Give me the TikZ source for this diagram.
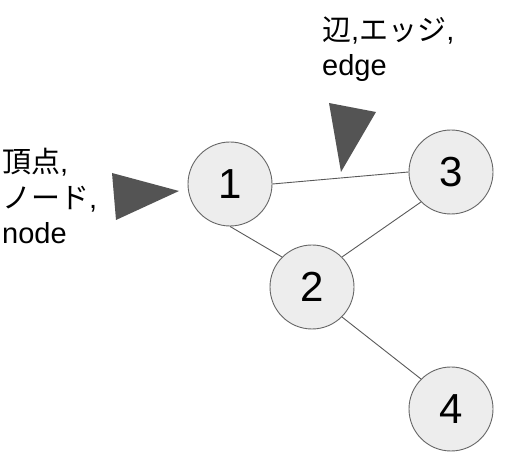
\documentclass[tikz,border=0pt]{standalone}
\usepackage{fontspec}
\setmainfont{Liberation Sans}
\newfontfamily\cjk{Noto Sans CJK JP}
\begin{document}
\begin{tikzpicture}[x=1pt,y=-1pt,
  vertex/.style={circle,draw=black!60,fill=black!7,line width=0.9pt,minimum size=84pt,inner sep=0pt,font=\fontsize{42}{42}\selectfont},
  link/.style={draw=black!65,line width=0.9pt},
  pointer/.style={fill=black!67,draw=none},
  lbl/.style={anchor=base west,inner sep=0pt,font=\fontsize{29}{29}\selectfont}]
\useasboundingbox (0,0) rectangle (507,462);
\node[vertex] (n1) at (230,184) {1};
\node[vertex] (n3) at (451,172) {3};
\node[vertex] (n2) at (312,287) {2};
\node[vertex] (n4) at (451,409) {4};
\draw[link] (n1.east) -- (n3.west);
\draw[link] (n1.south) -- (n2.north west);
\draw[link] (n2.north east) -- (n3.south west);
\draw[link] (n2.south east) -- (n4.north west);
\fill[pointer] (112,173) -- (179,191) -- (116,220) -- cycle;
\fill[pointer] (329,103) -- (376,112) -- (341,172) -- cycle;
\node[lbl] (t1) at (2,173) {{\cjk 頂点},};
\node[lbl] (t2) at (2,209) {{\cjk ノード},};
\node[lbl] (t3) at (2,244) {node};
\node[lbl] (t4) at (322,41) {{\cjk 辺},{\cjk エッジ},};
\node[lbl] (t5) at (322,76) {edge};
\end{tikzpicture}
\end{document}
